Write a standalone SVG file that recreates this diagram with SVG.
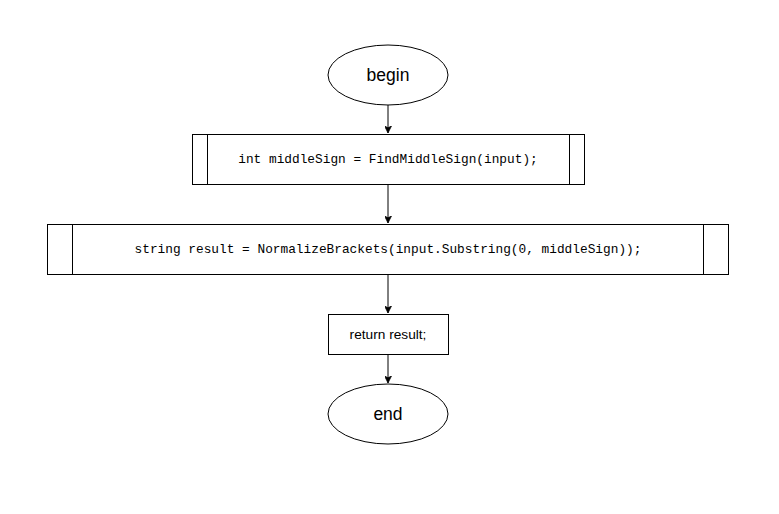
<svg xmlns="http://www.w3.org/2000/svg" width="779" height="514" viewBox="0 0 779 514">
<style>
.s{fill:#fff;stroke:#000;stroke-width:1}
.t{font-family:"Liberation Sans",Arial,sans-serif;fill:#000;text-anchor:middle;dominant-baseline:central}
.c{font-family:"Liberation Mono","DejaVu Sans Mono",monospace;font-size:12.8px;fill:#000;text-anchor:middle;dominant-baseline:central}
.e{fill:none;stroke:#000;stroke-width:1}
</style>
<defs>
<marker id="a" viewBox="0 0 10 10" refX="10" refY="5" markerWidth="7" markerHeight="7" markerUnits="userSpaceOnUse" orient="auto">
<path d="M0,0 L10,5 L0,10 L2.5,5 Z" fill="#000" stroke="#000" stroke-width="1"/>
</marker>
</defs>
<rect width="779" height="514" fill="#fff"/>
<g id="connectors">
<path class="e" d="M388,105 V133" marker-end="url(#a)"/>
<path class="e" d="M388,184 V223" marker-end="url(#a)"/>
<path class="e" d="M388,274 V313" marker-end="url(#a)"/>
<path class="e" d="M388,354 V383" marker-end="url(#a)"/>
</g>
<g id="begin">
<ellipse class="s" cx="388" cy="75" rx="60" ry="30"/>
<text class="t" x="388" y="75" font-size="17.5">begin</text>
</g>
<g id="find">
<rect class="s" x="192.5" y="134.5" width="392" height="50"/>
<path class="e" d="M207.5,134.5 V184.5 M569.5,134.5 V184.5"/>
<text class="c" x="388" y="159">int middleSign = FindMiddleSign(input);</text>
</g>
<g id="normalize">
<rect class="s" x="47.5" y="224.5" width="681" height="50"/>
<path class="e" d="M72.5,224.5 V274.5 M703.5,224.5 V274.5"/>
<text class="c" x="388" y="249">string result = NormalizeBrackets(input.Substring(0, middleSign));</text>
</g>
<g id="return">
<rect class="s" x="328.5" y="314.5" width="120" height="40"/>
<text class="t" x="388" y="334" font-size="13.7">return result;</text>
</g>
<g id="end">
<ellipse class="s" cx="388" cy="414" rx="60" ry="30"/>
<text class="t" x="388" y="414" font-size="17.5">end</text>
</g>
</svg>
